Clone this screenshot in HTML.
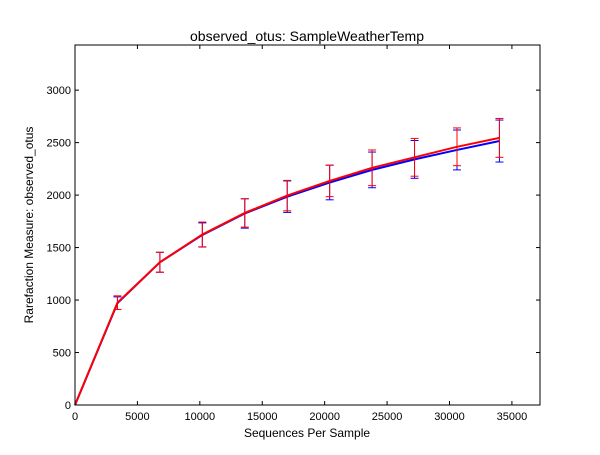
<!DOCTYPE html>
<html><head><meta charset="utf-8"><style>
body{margin:0;background:#fff;}
svg{font-family:"Liberation Sans",sans-serif;}
</style></head><body>
<svg id="chart" width="600" height="450" viewBox="0 0 600 450">
<rect width="600" height="450" fill="#fff"/>
<text x="307" y="41" font-size="14" text-anchor="middle">observed_otus: SampleWeatherTemp</text>
<g id="axes"></g>
<g id="series"></g>
<rect x="75" y="45" width="465" height="360" fill="none" stroke="#000" stroke-width="1"/>
<text x="307" y="437" font-size="12" text-anchor="middle">Sequences Per Sample</text>
<text transform="translate(33,225) rotate(-90)" font-size="12" text-anchor="middle">Rarefaction Measure: observed_otus</text>
</svg>
<script>
const depths=[0,3400,6800,10200,13600,17000,20400,23800,27200,30600,34000];
const blueVals=[0,970,1360,1620,1825,1985,2120,2240,2340,2430,2515];
const blueErr=[0,60,95,115,140,150,165,170,180,190,200];
const redVals=[0,975,1360,1625,1830,1995,2135,2260,2360,2460,2545];
const redErr=[0,65,95,118,135,145,150,170,180,180,185];
const xTicks=[0,5000,10000,15000,20000,25000,30000,35000];
const yTicks=[0,500,1000,1500,2000,2500,3000];
const X0=75,X1=540,Y0=405,Y1=45,XMAX=37250,YMAX=3430;
const sx=v=>X0+v/XMAX*(X1-X0), sy=v=>Y0-v/YMAX*(Y0-Y1);
const NS="http://www.w3.org/2000/svg";
function mk(tag,attrs,parent){const e=document.createElementNS(NS,tag);for(const k in attrs)e.setAttribute(k,attrs[k]);parent.appendChild(e);return e;}
const ax=document.getElementById('axes'), sg=document.getElementById('series');
xTicks.forEach(t=>{const x=sx(t);
 let l=mk('line',{x1:x,x2:x,y1:Y0,y2:Y0-4,stroke:'#000'},ax);
 
 
 mk('line',{x1:x,x2:x,y1:Y1,y2:Y1+4,stroke:'#000'},ax);
 let tx=mk('text',{x:x,y:Y0+15,'font-size':11,'text-anchor':'middle'},ax);tx.textContent=t;
 
 });
yTicks.forEach(t=>{const y=sy(t);
 let l=mk('line',{x1:X0,x2:X0+4,y1:y,y2:y,stroke:'#000'},ax);
 
 
 mk('line',{x1:X1,x2:X1-4,y1:y,y2:y,stroke:'#000'},ax);
 let tx=mk('text',{x:X0-4,y:y+4,'font-size':11,'text-anchor':'end'},ax);tx.textContent=t;
 
 });
function series(vals,err,color,name){
 const g=mk('g',{},sg);
 
 
 vals.forEach((v,i)=>{if(!err[i])return;const x=sx(depths[i]),a=sy(v-err[i]),b=sy(v+err[i]);
  const e=mk('g',{stroke:color,'stroke-width':1},g);
  
  
  mk('line',{x1:x,x2:x,y1:a,y2:b},e);mk('line',{x1:x-4,x2:x+4,y1:a,y2:a},e);mk('line',{x1:x-4,x2:x+4,y1:b,y2:b},e);});
 const p=mk('polyline',{points:vals.map((v,i)=>sx(depths[i])+','+sy(v)).join(' '),fill:'none',stroke:color,'stroke-width':2},g);
 
 
}
series(blueVals,blueErr,'#0000ff','blue');
series(redVals,redErr,'#ff0000','red');
</script>
</body></html>
